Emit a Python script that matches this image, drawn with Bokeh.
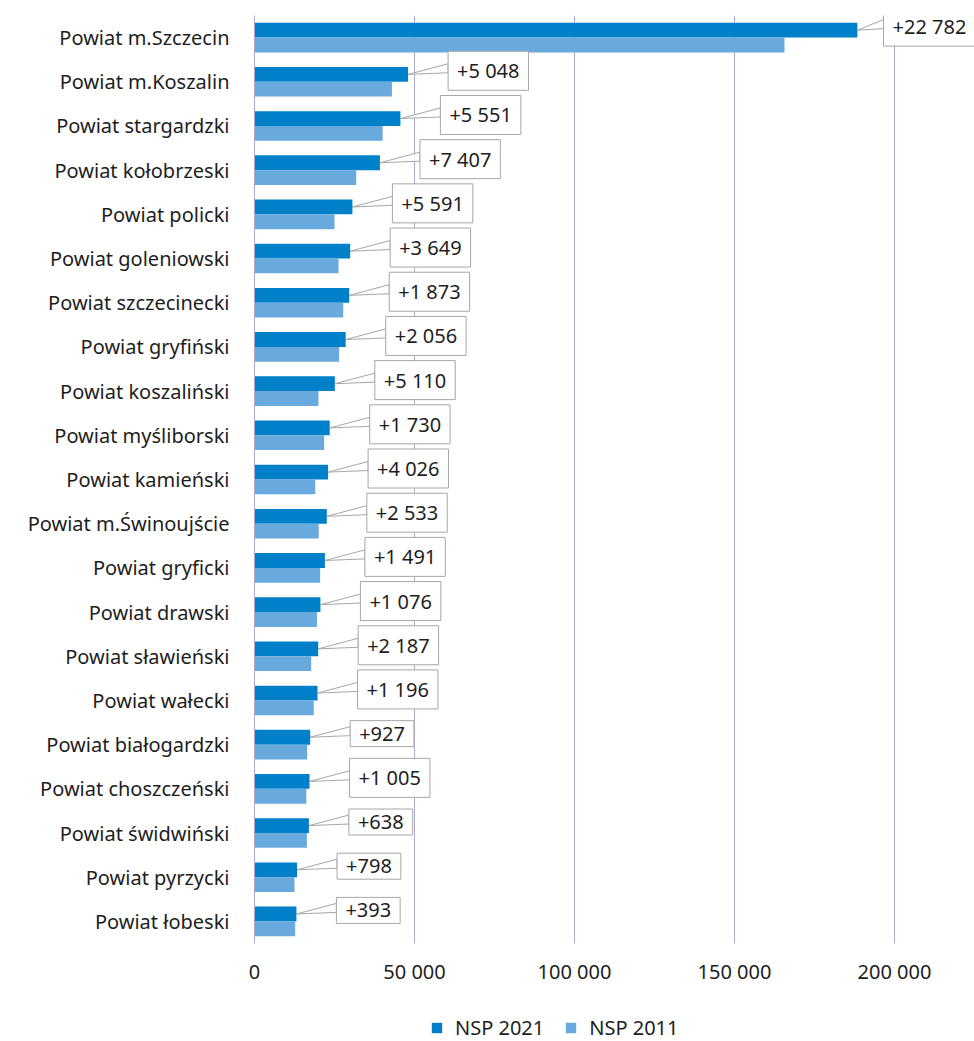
from bokeh.plotting import figure
from bokeh.layouts import column
from bokeh.models import FactorRange, Range1d, FixedTicker, Legend, LegendItem, ColumnDataSource
from bokeh.embed import file_html
from bokeh.resources import INLINE
from bokeh.core.properties import value

categories = [
    "Powiat m.Szczecin", "Powiat m.Koszalin", "Powiat stargardzki", "Powiat kołobrzeski",
    "Powiat policki", "Powiat goleniowski", "Powiat szczecinecki", "Powiat gryfiński",
    "Powiat koszaliński", "Powiat myśliborski", "Powiat kamieński", "Powiat m.Świnoujście",
    "Powiat gryficki", "Powiat drawski", "Powiat sławieński", "Powiat wałecki",
    "Powiat białogardzki", "Powiat choszczeński", "Powiat świdwiński", "Powiat pyrzycki",
    "Powiat łobeski",
]
nsp2021 = [188400, 48000, 45600, 39200, 30600, 29900, 29600, 28500, 25100, 23500, 23000,
           22600, 22000, 20600, 19900, 19700, 17400, 17200, 17000, 13300, 13100]
nsp2011 = [165618, 42952, 40049, 31793, 25009, 26251, 27727, 26444, 19990, 21770, 18974,
           20067, 20509, 19524, 17713, 18504, 16473, 16195, 16362, 12502, 12707]
diffs = [22782, 5048, 5551, 7407, 5591, 3649, 1873, 2056, 5110, 1730, 4026,
         2533, 1491, 1076, 2187, 1196, 927, 1005, 638, 798, 393]
x_ticks = [0, 50000, 100000, 150000, 200000]
x_tick_labels = ["0", "50 000", "100 000", "150 000", "200 000"]
series_names = ["NSP 2021", "NSP 2011"]

DARK = "#0080C8"
LIGHT = "#69AADE"
GRID = "#ABABCF"
BOX_LINE = "#A6A6A6"
TEXT = "#1E1E1E"
FONT = "Noto Sans"

FRAME_W = 720
FRAME_H = 928
X_END = 225000
n = len(categories)
px_x = X_END / FRAME_W          # data units per px (x)
px_y = n / FRAME_H              # data units per px (y)

centers = [n - i - 0.5 for i in range(n)]
fmt = lambda v: "+" + f"{v:,}".replace(",", " ")
# label box sits ~40px right of the bar end, but never beyond the frame edge
box_left = [min(v + 40 * px_x, X_END - 91 * px_x) for v in nsp2021]

src = ColumnDataSource(dict(
    cat=categories,
    v21=nsp2021,
    v11=nsp2011,
    yd=[c + 0.1675 for c in centers],
    yl=[c - 0.1675 for c in centers],
    lab=[fmt(d) for d in diffs],
    lx=box_left,
    ly=[c + 11 * px_y for c in centers],
))

p = figure(
    frame_width=FRAME_W, frame_height=FRAME_H,
    x_range=Range1d(0, X_END),
    y_range=FactorRange(factors=list(reversed(categories))),
    output_backend="svg", toolbar_location=None,
    min_border_left=254, min_border_right=0, min_border_top=15, min_border_bottom=57,
)
p.outline_line_color = None
p.background_fill_color = "white"
p.border_fill_color = "white"

p.hbar(y="yd", right="v21", left=0, height=0.335, source=src,
       fill_color=DARK, line_color=None)
p.hbar(y="yl", right="v11", left=0, height=0.335, source=src,
       fill_color=LIGHT, line_color=None)

# callout wedges
xs, ys = [], []
for v, bx, c in zip(nsp2021, box_left, centers):
    xs.append([v, bx, bx])
    ys.append([c + 0.1675, c + 18 * px_y, c + 9.0 * px_y])
p.patches(xs, ys, fill_color="white", line_color=BOX_LINE, line_width=1)

p.text(x="lx", y="ly", text="lab", source=src,
       text_font=value(FONT), text_font_size="20px", text_color=TEXT,
       text_align="left", text_baseline="middle",
       background_fill_color="white", border_line_color=BOX_LINE,
       border_line_width=1, padding=dict(left=9, right=9, top=6, bottom=6))

p.xaxis.ticker = FixedTicker(ticks=x_ticks)
p.xaxis.major_label_overrides = {t: l for t, l in zip(x_ticks, x_tick_labels)}
p.xaxis.axis_line_color = None
p.xaxis.major_tick_line_color = None
p.xaxis.minor_tick_line_color = None
p.xaxis.major_label_standoff = 8
p.xaxis.major_label_text_font = FONT
p.xaxis.major_label_text_font_size = "20px"
p.xaxis.major_label_text_color = TEXT

p.yaxis.axis_line_color = GRID
p.yaxis.major_tick_line_color = None
p.yaxis.minor_tick_line_color = None
p.yaxis.major_label_standoff = 19
p.yaxis.major_label_text_font = FONT
p.yaxis.major_label_text_font_size = "20px"
p.yaxis.major_label_text_color = TEXT

p.xgrid.grid_line_color = GRID
p.ygrid.grid_line_color = None

# legend strip below the chart (its frame is aligned with the chart frame)
lg = figure(width=974, height=41, x_range=Range1d(0, 1), y_range=Range1d(0, 1),
            x_axis_type=None, y_axis_type=None, output_backend="svg",
            toolbar_location=None, min_border=0)
lg.outline_line_color = None
lg.grid.visible = False
# zero-width swatch renderers: only their legend glyphs are visible
l21 = lg.hbar(y=[-5], right=[0], left=0, height=0.5, fill_color=DARK, line_color=None)
l11 = lg.hbar(y=[-5], right=[0], left=0, height=0.5, fill_color=LIGHT, line_color=None)
legend = Legend(
    items=[LegendItem(label=series_names[0], renderers=[l21]),
           LegendItem(label=series_names[1], renderers=[l11])],
    orientation="horizontal", location=(176, 0),
    background_fill_alpha=0, border_line_color=None,
    padding=0, margin=0, spacing=20, label_standoff=12,
    glyph_width=13, glyph_height=13,
    label_text_font=FONT, label_text_font_size="20px", label_text_color=TEXT,
    label_text_line_height=0.75,
)
lg.add_layout(legend)

layout = column(p, lg, spacing=0)
open("out.html", "w").write(file_html(layout, INLINE))
